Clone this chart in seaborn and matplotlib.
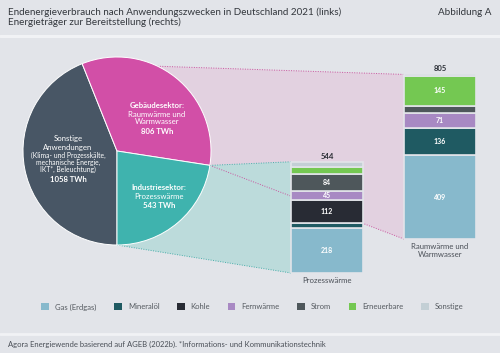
import numpy as np
import seaborn as sns
import matplotlib.pyplot as plt
from matplotlib.patches import Patch, Polygon
from matplotlib.lines import Line2D

# Endenergieverbrauch nach Anwendungszweck 2021 (TWh)
pie_names = ["Sonstige", "Gebäudesektor", "Industriesektor"]
pie_values = [1058, 806, 543]
pie_colors = ["#485665", "#d24fa7", "#3fb3ae"]

# Energietraeger je Anwendung (TWh)
carriers = ["Gas (Erdgas)", "Mineralöl", "Kohle", "Fernwärme", "Strom", "Erneuerbare", "Sonstige"]
carrier_colors = ["#87b9cc", "#1f5a62", "#282b34", "#a889c3", "#4e575b", "#74c852", "#c3cfd5"]
prozess = [218, 26, 112, 45, 84, 35, 24]
raumwaerme = [409, 136, 0, 71, 36, 145, 8]
bar_names = ["Prozesswärme", "Raumwärme und\nWarmwasser"]
bar_totals = [544, 805]

BG = "#e2e4e9"
W, H = 500, 353

sns.set_theme(style="white")
plt.rcParams["font.family"] = ["Lato", "DejaVu Sans"]

fig = plt.figure(figsize=(W / 100, H / 100), dpi=100, facecolor=BG)

def rect(left, top, w, h):
    # pixel box -> figure fraction
    return [left / W, 1 - (top + h) / H, w / W, h / H]

# background layer in pixel coords for the connectors
ax_bg = fig.add_axes([0, 0, 1, 1], zorder=0)
ax_bg.set_xlim(0, W)
ax_bg.set_ylim(H, 0)
ax_bg.axis("off")
ax_bg.patch.set_visible(False)

# pie
ax_pie = fig.add_axes(rect(17, 51, 200, 200), zorder=3)
wedges, _ = ax_pie.pie(pie_values, colors=pie_colors, startangle=-90, counterclock=False,
                       wedgeprops=dict(edgecolor="white", linewidth=0.7))
lim = 100 / 94
ax_pie.set_xlim(-lim, lim)
ax_pie.set_ylim(-lim, lim)
ax_pie.patch.set_visible(False)

# stacked bars, same TWh scale on both
ax_l = fig.add_axes(rect(277, 273 - 184, 100, 184), zorder=2)
ax_r = fig.add_axes(rect(390, 239 - 184, 100, 184), zorder=2)

def draw_stack(ax, name, values, total, pad):
    bottom = 0
    for val, col in zip(values, carrier_colors):
        sns.barplot(x=[name], y=[val], bottom=bottom, color=col, saturation=1, width=0.72,
                    errorbar=None, ax=ax, edgecolor=BG, linewidth=1.2)
        if val >= 40:
            ax.bar_label(ax.containers[-1], labels=[str(val)], label_type="center",
                         color="white", fontsize=5, fontweight="bold")
        bottom += val
    ax.set_xlim(-0.5, 0.5)
    ax.set_ylim(0, 900)
    ax.annotate(str(total), (0, sum(values)), xytext=(0, 1.5), textcoords="offset points",
                ha="center", va="bottom", fontsize=5.5, fontweight="bold", color="#2b2f36")
    ax.set_yticks([])
    ax.set_xlabel("")
    ax.set_ylabel("")
    ax.tick_params(axis="x", length=0, labelsize=5.6, labelcolor="#4a4f57", pad=pad)
    sns.despine(ax=ax, left=True, bottom=True)
    ax.patch.set_visible(False)

draw_stack(ax_l, bar_names[0], prozess, bar_totals[0], 3)
draw_stack(ax_r, bar_names[1], raumwaerme, bar_totals[1], 3)

to_bg = ax_bg.transData.inverted()

def pie_point(w, ang):
    t = np.deg2rad(ang)
    p = (w.center[0] + w.r * np.cos(t), w.center[1] + w.r * np.sin(t))
    return to_bg.transform(ax_pie.transData.transform(p))

def bar_corner(ax, y):
    r = ax.patches[0]
    return to_bg.transform(ax.transData.transform((r.get_x(), y)))

geb, ind = wedges[1], wedges[2]
g_top, g_right = pie_point(geb, geb.theta2), pie_point(geb, geb.theta1)
i_right, i_bot = pie_point(ind, ind.theta2), pie_point(ind, ind.theta1)
r_top, r_bot = bar_corner(ax_r, sum(raumwaerme)), bar_corner(ax_r, 0)
l_top, l_bot = bar_corner(ax_l, sum(prozess)), bar_corner(ax_l, 0)

ax_bg.add_patch(Polygon([g_top, r_top, r_bot, g_right], closed=True, facecolor="#e2d1e0", edgecolor="none"))
ax_bg.add_patch(Polygon([i_right, l_top, l_bot, i_bot], closed=True, facecolor="#bcdbdb", edgecolor="none"))
for a, b, c in [(g_top, r_top, "#c9559f"), (g_right, r_bot, "#c9559f"),
                (i_right, l_top, "#47aeaa"), (i_bot, l_bot, "#47aeaa")]:
    ax_bg.plot([a[0], b[0]], [a[1], b[1]], color=c, lw=0.7, ls=(0, (1, 1.5)))

# texts inside the pie
def ptext(x, y, s, size=5.6, bold=False):
    fig.text(x / W, 1 - y / H, s, ha="center", va="center", color="white", fontsize=size,
             fontweight="bold" if bold else "normal", zorder=5)

ptext(157, 106, "Gebäudesektor:", bold=True)
ptext(157, 114.5, "Raumwärme und")
ptext(157, 122, "Warmwasser")
ptext(157, 131.5, f"{pie_values[1]} TWh", bold=True)

ptext(68, 139, "Sonstige")
ptext(68, 147.5, "Anwendungen")
ptext(68, 155.5, "(Klima- und Prozesskälte,", size=4.9)
ptext(68, 162.5, "mechanische Energie,", size=4.9)
ptext(68, 169.5, "IKT*, Beleuchtung)", size=4.9)
ptext(68, 179.5, f"{pie_values[0]} TWh", bold=True)

ptext(159, 188, "Industriesektor:", bold=True)
ptext(159, 196.5, "Prozesswärme")
ptext(159, 206, f"{pie_values[2]} TWh", bold=True)

# legend
handles = [Patch(facecolor=c, edgecolor="none") for c in carrier_colors]
fig.legend(handles, carriers, loc="center", bbox_to_anchor=(252.5 / W, 1 - 307 / H), ncol=7,
           frameon=False, fontsize=5.5, handlelength=1.0, handleheight=1.0, handletextpad=0.8,
           columnspacing=2.3, labelcolor="#555a60")

# header / footer
fig.text(8 / W, 1 - 12.5 / H, "Endenergieverbrauch nach Anwendungszwecken in Deutschland 2021 (links)",
         fontsize=7.1, color="#33373d", va="center")
fig.text(8 / W, 1 - 22.5 / H, "Energieträger zur Bereitstellung (rechts)",
         fontsize=7.1, color="#33373d", va="center")
fig.text(491 / W, 1 - 12.5 / H, "Abbildung A", fontsize=7.1, color="#33373d", va="center", ha="right")
fig.add_artist(Line2D([0, 1], [1 - 35.5 / H] * 2, color="#f1f2f5", lw=2.2))
fig.add_artist(Line2D([0, 1], [1 - 333.5 / H] * 2, color="#f1f2f5", lw=2.0))
fig.text(8 / W, 1 - 344.5 / H,
         "Agora Energiewende basierend auf AGEB (2022b). *Informations- und Kommunikationstechnik",
         fontsize=5.5, color="#4a4f57", va="center")

fig.savefig("out.png", dpi=100, facecolor=BG)
